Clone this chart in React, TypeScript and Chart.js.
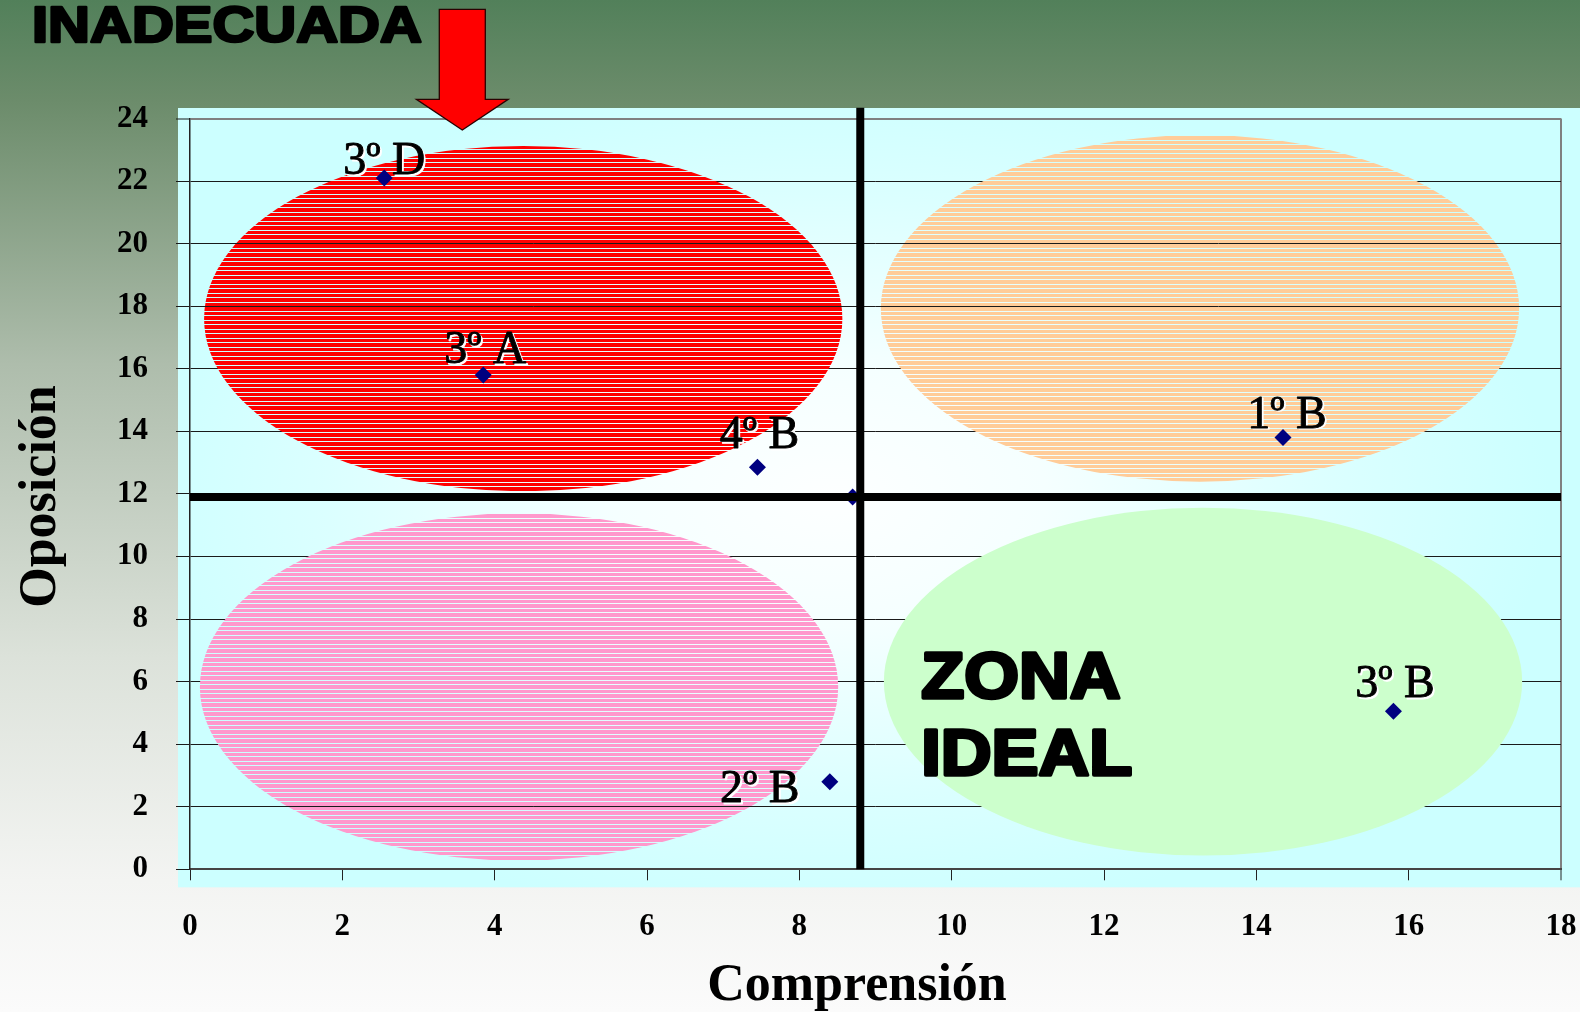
import React, { useEffect, useRef } from 'react';
import { Chart, registerables } from 'chart.js';

Chart.register(...registerables);

// ---- data ----
const groupLabels = ['3º D', '3º A', '4º B', '', '1º B', '2º B', '3º B'];
const comprension = [2.55, 3.85, 7.45, 8.7, 14.35, 8.4, 15.8];
const oposicion = [22.1, 15.8, 12.85, 11.9, 13.8, 2.8, 5.05];
const meanComprension = 8.8;
const meanOposicion = 11.9;
const verticalLineTop = 24.34;

const xMin = 0;
const xMax = 18;
const xStep = 2;
const yMin = 0;
const yMax = 24;
const yStep = 2;

const zoneCx = [4.375, 13.26, 4.32, 13.3];
const zoneCy = [17.6, 17.93, 5.83, 6.0];
const zoneRx = [4.19, 4.19, 4.19, 4.19];
const zoneRy = [5.52, 5.54, 5.55, 5.56];
const zoneColors = ['#FF0000', '#FFCC99', '#FF99CC', '#CCFFCC'];
const zoneStriped = [true, true, true, false];

const idealText = ['ZONA', 'IDEAL'];
const idealX = 9.58;
const idealBaselines = [5.43, 2.98];

const xTitle = 'Comprensión';
const yTitle = 'Oposición';
const topTitle = 'INADECUADA';

// label offsets (px) relative to each point: [dx of text center, dy of baseline]
const labelOffsets: number[][] = [
  [0, -4],
  [2, -12],
  [2, -19],
  [0, 0],
  [4, -10],
  [-70, 20],
  [1.5, -14],
];

const decorPlugin = {
  id: 'decor',
  beforeDraw(chart: any) {
    const ctx = chart.ctx as CanvasRenderingContext2D;
    const W = chart.width;
    const H = chart.height;
    const ca = chart.chartArea;
    ctx.save();
    const lg = ctx.createLinearGradient(0, 0, 0, H);
    lg.addColorStop(0, '#52805A');
    lg.addColorStop(0.1, '#6C8C6B');
    lg.addColorStop(0.36, '#AEBDAC');
    lg.addColorStop(0.65, '#DCE2DA');
    lg.addColorStop(0.87, '#F3F4F2');
    lg.addColorStop(1, '#FBFBFB');
    ctx.fillStyle = lg;
    ctx.fillRect(0, 0, W, H);

    // plot panel
    const px0 = ca.left - 12;
    const py0 = ca.top - 10.5;
    const px1 = W;
    const py1 = ca.bottom + 18;
    ctx.beginPath();
    ctx.rect(px0, py0, px1 - px0, py1 - py0);
    ctx.clip();
    ctx.fillStyle = '#CCFFFF';
    ctx.fillRect(px0, py0, px1 - px0, py1 - py0);
    const cx = chart.scales.x.getPixelForValue(8.4);
    const cy = chart.scales.y.getPixelForValue(11.9);
    ctx.translate(cx, cy);
    ctx.scale(720, 430);
    const rg = ctx.createRadialGradient(0, 0, 0, 0, 0, 1);
    rg.addColorStop(0, '#FDFFFF');
    rg.addColorStop(0.3, '#F5FFFF');
    rg.addColorStop(0.7, '#DBFFFF');
    rg.addColorStop(1, 'rgba(204,255,255,1)');
    ctx.fillStyle = rg;
    ctx.fillRect(-3, -3, 6, 6);
    ctx.restore();
  },
  beforeDatasetsDraw(chart: any) {
    const ctx = chart.ctx as CanvasRenderingContext2D;
    const xs = chart.scales.x;
    const ys = chart.scales.y;
    for (let i = 0; i < zoneCx.length; i++) {
      const cxp = xs.getPixelForValue(zoneCx[i]);
      const cyp = ys.getPixelForValue(zoneCy[i]);
      const rxp = xs.getPixelForValue(zoneCx[i] + zoneRx[i]) - cxp;
      const ryp = ys.getPixelForValue(zoneCy[i] - zoneRy[i]) - cyp;
      ctx.save();
      ctx.beginPath();
      ctx.ellipse(cxp, cyp, rxp, ryp, 0, 0, Math.PI * 2);
      ctx.fillStyle = zoneColors[i];
      if (!zoneStriped[i]) {
        ctx.fill();
      } else {
        ctx.clip();
        const period = 4.5;
        let k = Math.floor((cyp - ryp) / period) - 1;
        for (;; k++) {
          const a = Math.round(k * period);
          const b = Math.round((k + 1) * period);
          if (a > cyp + ryp + 2) break;
          ctx.fillRect(cxp - rxp - 2, a + 1, 2 * rxp + 4, b - a - 1);
        }
      }
      ctx.restore();
    }
  },
  afterDatasetsDraw(chart: any) {
    const ctx = chart.ctx as CanvasRenderingContext2D;
    const xs = chart.scales.x;
    const ys = chart.scales.y;
    const meta = chart.getDatasetMeta(0);
    ctx.save();
    // point labels: white offset shadow first, then black text
    ctx.font = '46px "Liberation Serif", serif';
    ctx.textAlign = 'center';
    ctx.textBaseline = 'alphabetic';
    ctx.lineWidth = 0.9;
    ctx.lineJoin = 'round';
    meta.data.forEach((el: any, i: number) => {
      const t = groupLabels[i];
      if (!t) return;
      const tx = el.x + labelOffsets[i][0];
      const ty = el.y + labelOffsets[i][1];
      ctx.fillStyle = '#FFFFFF';
      ctx.strokeStyle = '#FFFFFF';
      ctx.fillText(t, tx + 1.8, ty + 1.8);
      ctx.strokeText(t, tx + 1.8, ty + 1.8);
      ctx.fillStyle = '#000000';
      ctx.strokeStyle = '#000000';
      ctx.fillText(t, tx, ty);
      ctx.strokeText(t, tx, ty);
    });
    ctx.restore();

    // ZONA IDEAL
    ctx.save();
    ctx.font = 'bold 64px "Liberation Sans", Arial, sans-serif';
    ctx.fillStyle = '#000';
    ctx.strokeStyle = '#000';
    ctx.lineWidth = 3.5;
    ctx.lineJoin = 'round';
    idealText.forEach((t, i) => {
      ctx.save();
      ctx.translate(xs.getPixelForValue(idealX) + 1.5, ys.getPixelForValue(idealBaselines[i]) - 1);
      ctx.scale(1.1, 1);
      ctx.fillText(t, 0, 0);
      ctx.strokeText(t, 0, 0);
      ctx.restore();
    });
    ctx.restore();

    // INADECUADA title
    ctx.save();
    ctx.font = 'bold 50px "Liberation Sans", Arial, sans-serif';
    ctx.fillStyle = '#000';
    ctx.strokeStyle = '#000';
    ctx.lineWidth = 2.6;
    ctx.lineJoin = 'round';
    ctx.translate(32, 41.5);
    ctx.scale(1.16, 1);
    ctx.fillText(topTitle, 0, 0);
    ctx.strokeText(topTitle, 0, 0);
    ctx.restore();

    // arrow
    ctx.save();
    ctx.beginPath();
    ctx.moveTo(439.3, 9.3);
    ctx.lineTo(485.3, 9.3);
    ctx.lineTo(485.3, 99.3);
    ctx.lineTo(508.2, 99.3);
    ctx.lineTo(462.3, 130);
    ctx.lineTo(416.4, 99.3);
    ctx.lineTo(439.3, 99.3);
    ctx.closePath();
    ctx.fillStyle = '#FF0000';
    ctx.fill();
    ctx.strokeStyle = '#2a0000';
    ctx.lineWidth = 1.3;
    ctx.stroke();
    ctx.restore();

    // axis titles
    ctx.save();
    ctx.font = 'bold 52px "Liberation Serif", serif';
    ctx.fillStyle = '#000';
    ctx.textAlign = 'center';
    ctx.textBaseline = 'alphabetic';
    ctx.fillText(xTitle, 857, 1000);
    ctx.translate(55, 496.5);
    ctx.rotate(-Math.PI / 2);
    ctx.fillText(yTitle, 0, 0);
    ctx.restore();
  },
};

export default function App() {
  const ref = useRef<HTMLCanvasElement | null>(null);
  useEffect(() => {
    if (!ref.current) return;
    const chart = new Chart(ref.current, {
      type: 'scatter',
      data: {
        datasets: [
          {
            type: 'scatter',
            label: 'Cursos',
            data: comprension.map((x, i) => ({ x, y: oposicion[i] })),
            pointStyle: 'rectRot',
            pointRadius: 8.5,
            pointHoverRadius: 8.5,
            backgroundColor: '#000080',
            borderColor: '#000080',
            borderWidth: 0,
            order: 1,
          },
          {
            type: 'line',
            label: 'Media comprensión',
            data: [
              { x: meanComprension, y: yMin },
              { x: meanComprension, y: verticalLineTop },
            ],
            borderColor: '#000',
            borderWidth: 8,
            pointRadius: 0,
            showLine: true,
            fill: false,
            clip: false,
            order: 0,
          } as any,
          {
            type: 'line',
            label: 'Media oposición',
            data: [
              { x: xMin, y: meanOposicion },
              { x: xMax, y: meanOposicion },
            ],
            borderColor: '#000',
            borderWidth: 8,
            pointRadius: 0,
            showLine: true,
            fill: false,
            clip: false,
            order: 0,
          } as any,
        ],
      },
      options: {
        responsive: false,
        animation: false,
        events: [],
        layout: { padding: { top: 118.5, right: 19, left: 0, bottom: 0 } },
        plugins: {
          legend: { display: false },
          tooltip: { enabled: false },
        },
        scales: {
          x: {
            type: 'linear',
            min: xMin,
            max: xMax,
            afterFit: (s: any) => {
              s.height = 1012 - 869.3;
              s.paddingLeft = 0;
              s.paddingRight = 0;
            },
            ticks: {
              stepSize: xStep,
              autoSkip: false,
              maxRotation: 0,
              padding: 28,
              color: '#000',
              font: { family: '"Liberation Serif", serif', size: 31, weight: 'bold' },
            },
            grid: {
              color: (c: any) => (c.tick && c.tick.value === xMax ? '#808080' : 'rgba(0,0,0,0)'),
              lineWidth: (c: any) => (c.tick && c.tick.value === xMax ? 2 : 1),
              tickColor: '#222',
              tickLength: 11,
              tickWidth: 1,
            },
            border: { color: '#444', width: 2 },
          },
          y: {
            type: 'linear',
            min: yMin,
            max: yMax,
            afterFit: (s: any) => {
              s.width = 190;
              s.paddingTop = 0;
              s.paddingBottom = 0;
            },
            ticks: {
              stepSize: yStep,
              autoSkip: false,
              padding: 28,
              color: '#000',
              font: { family: '"Liberation Serif", serif', size: 31, weight: 'bold' },
            },
            grid: {
              color: (c: any) => (c.tick && c.tick.value === yMax ? '#808080' : '#1a1a1a'),
              lineWidth: (c: any) => (c.tick && c.tick.value === yMax ? 2 : 1),
              tickColor: '#1a1a1a',
              tickLength: 14,
              tickWidth: 1,
            },
            border: { color: '#222', width: 1.5 },
          },
        },
      } as any,
      plugins: [decorPlugin],
    });
    return () => chart.destroy();
  }, []);

  return (
    <div style={{ position: 'absolute', left: 0, top: 0, width: 1580, height: 1012 }}>
      <canvas ref={ref} width={1580} height={1012} style={{ display: 'block' }} />
    </div>
  );
}
